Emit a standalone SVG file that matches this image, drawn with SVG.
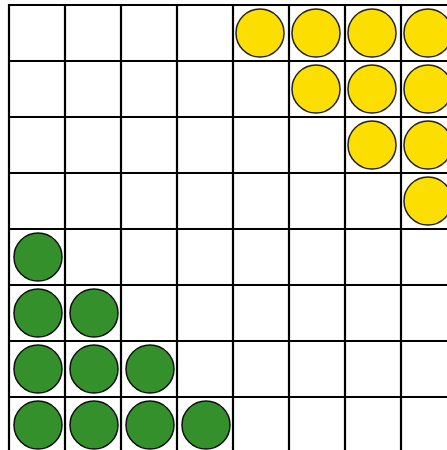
<svg xmlns="http://www.w3.org/2000/svg" width="447" height="450" viewBox="0 0 447 450">
<style>
.grid line{stroke:#000;stroke-width:2.2}
.y{fill:#fcde00;stroke:#222;stroke-width:1.5}
.g{fill:#33902b;stroke:#111;stroke-width:1.5}
</style>
<rect width="447" height="450" fill="#fff"/>
<g id="grid" class="grid">
<line x1="8" y1="5" x2="447" y2="5"/>
<line x1="8" y1="61" x2="447" y2="61"/>
<line x1="8" y1="117" x2="447" y2="117"/>
<line x1="8" y1="173" x2="447" y2="173"/>
<line x1="8" y1="229" x2="447" y2="229"/>
<line x1="8" y1="285" x2="447" y2="285"/>
<line x1="8" y1="341" x2="447" y2="341"/>
<line x1="8" y1="397" x2="447" y2="397"/>
<line x1="9" y1="4" x2="9" y2="450"/>
<line x1="65" y1="4" x2="65" y2="450"/>
<line x1="121" y1="4" x2="121" y2="450"/>
<line x1="177" y1="4" x2="177" y2="450"/>
<line x1="233" y1="4" x2="233" y2="450"/>
<line x1="289" y1="4" x2="289" y2="450"/>
<line x1="345" y1="4" x2="345" y2="450"/>
<line x1="401" y1="4" x2="401" y2="450"/>
</g>
<g id="yellow">
<circle class="y" cx="260" cy="33" r="24"/>
<circle class="y" cx="316" cy="33" r="24"/>
<circle class="y" cx="372" cy="33" r="24"/>
<circle class="y" cx="428" cy="33" r="24"/>
<circle class="y" cx="316" cy="89" r="24"/>
<circle class="y" cx="372" cy="89" r="24"/>
<circle class="y" cx="428" cy="89" r="24"/>
<circle class="y" cx="372" cy="145" r="24"/>
<circle class="y" cx="428" cy="145" r="24"/>
<circle class="y" cx="428" cy="201" r="24"/>
</g>
<g id="green">
<circle class="g" cx="38" cy="257" r="24"/>
<circle class="g" cx="38" cy="313" r="24"/>
<circle class="g" cx="94" cy="313" r="24"/>
<circle class="g" cx="38" cy="369" r="24"/>
<circle class="g" cx="94" cy="369" r="24"/>
<circle class="g" cx="150" cy="369" r="24"/>
<circle class="g" cx="38" cy="425" r="24"/>
<circle class="g" cx="94" cy="425" r="24"/>
<circle class="g" cx="150" cy="425" r="24"/>
<circle class="g" cx="206" cy="425" r="24"/>
</g>
</svg>
